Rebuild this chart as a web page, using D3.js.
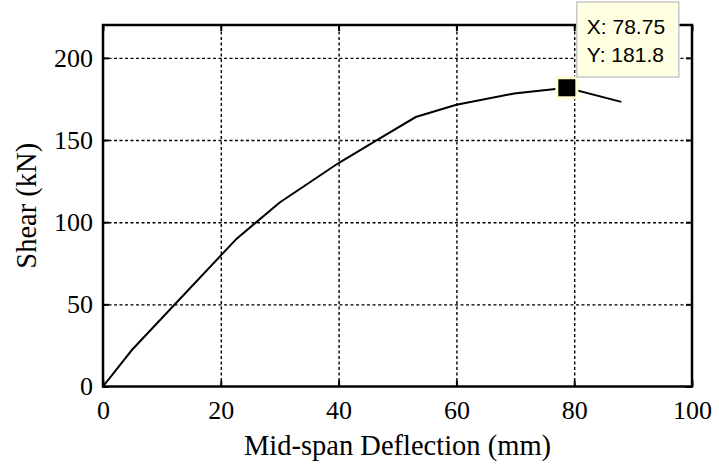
<!DOCTYPE html>
<html>
<head>
<meta charset="utf-8">
<script src="https://cdn.jsdelivr.net/npm/d3@7"></script>
<style>
  body { margin: 0; background: #fff; }
  .tick text { font-family: "Liberation Serif", "Times New Roman", serif; font-size: 26px; fill: #000; }
  .grid line { stroke: #000; stroke-width: 1.4; stroke-dasharray: 3,2.5; }
  .grid path { display: none; }
</style>
</head>
<body>
<div class="graph-section"></div>
<script>
// mid-span deflection (mm) vs shear (kN)
var deflection = [0, 4.9, 22.7, 30, 40, 46.5, 53.1, 60, 69.8, 78.75, 88];
var shear = [0, 22.2, 90, 112, 136, 150, 164, 171.5, 178.3, 181.8, 173.2];
var xTicks = [0, 20, 40, 60, 80, 100];
var yTicks = [0, 50, 100, 150, 200];
var tipX = 78.75, tipY = 181.8;

var screen = { width: 719, height: 465 };
var margins = { top: 25, bottom: 78.5, left: 103, right: 27 };

var w = screen.width - margins.left - margins.right;
var h = screen.height - margins.top - margins.bottom;

var xScale = d3.scaleLinear().domain([0, 100]).range([0, w]);
var yScale = d3.scaleLinear().domain([0, 220]).range([h, 0]);

var svg = d3.select(".graph-section")
  .append("svg")
  .attr("width", screen.width)
  .attr("height", screen.height);

var plot = svg.append("g")
  .attr("transform", "translate(" + margins.left + "," + margins.top + ")");

// grid
plot.append("g").classed("grid", true)
  .attr("transform", "translate(0," + h + ")")
  .call(d3.axisBottom(xScale).tickValues(xTicks.slice(1, -1)).tickSize(-h).tickFormat(""));
plot.append("g").classed("grid", true)
  .call(d3.axisLeft(yScale).tickValues(yTicks.slice(1)).tickSize(-w).tickFormat(""));

// inward ticks on all sides
var tickLen = 6;
var styleTicks = function(g){ g.select(".domain").remove(); g.selectAll("line").attr("stroke-width", 2); };
plot.append("g")
  .attr("transform", "translate(0," + h + ")")
  .call(d3.axisBottom(xScale).tickValues(xTicks).tickSizeInner(-tickLen).tickSizeOuter(0).tickPadding(14))
  .call(styleTicks);
plot.append("g")
  .call(d3.axisTop(xScale).tickValues(xTicks).tickSizeInner(-tickLen).tickSizeOuter(0).tickFormat(""))
  .call(styleTicks);
plot.append("g")
  .call(d3.axisLeft(yScale).tickValues(yTicks).tickSizeInner(-tickLen).tickSizeOuter(0).tickPadding(10))
  .call(styleTicks);
plot.append("g")
  .attr("transform", "translate(" + w + ",0)")
  .call(d3.axisRight(yScale).tickValues(yTicks).tickSizeInner(-tickLen).tickSizeOuter(0).tickFormat(""))
  .call(styleTicks);

// frame
plot.append("rect")
  .attr("x", 0).attr("y", 0)
  .attr("width", w).attr("height", h)
  .attr("fill", "none")
  .attr("stroke", "#000")
  .attr("stroke-width", 2.5);

// curve
var pts = deflection.map(function(d, i){ return [d, shear[i]]; });
var line = d3.line()
  .x(function(d){ return xScale(d[0]); })
  .y(function(d){ return yScale(d[1]); });

plot.append("path")
  .datum(pts)
  .attr("d", line)
  .attr("fill", "none")
  .attr("stroke", "#000")
  .attr("stroke-width", 2);

// data tip marker
var mx = xScale(tipX), my = yScale(tipY);
plot.append("rect")
  .attr("x", mx - 11.5).attr("y", my - 11.5)
  .attr("width", 23).attr("height", 23)
  .attr("fill", "#ffffd2");
plot.append("rect")
  .attr("x", mx - 8.5).attr("y", my - 8.5)
  .attr("width", 17).attr("height", 17)
  .attr("fill", "#000");

// data tip box
var tip = svg.append("g")
  .attr("transform", "translate(" + (margins.left + mx + 10) + ",2)");
tip.append("rect")
  .attr("x", 0).attr("y", 0)
  .attr("width", 102).attr("height", 75)
  .attr("fill", "#ffffe1")
  .attr("stroke", "#c8c8c8")
  .attr("stroke-width", 1.5);
tip.selectAll("text")
  .data(["X: " + tipX, "Y: " + tipY])
  .enter()
  .append("text")
  .attr("x", 10)
  .attr("y", function(d, i){ return 32 + i * 28; })
  .attr("font-family", "Liberation Sans, Arial, sans-serif")
  .attr("font-size", 21)
  .attr("fill", "#000")
  .text(function(d){ return d; });

// axis titles
svg.append("text")
  .attr("x", margins.left + w / 2)
  .attr("y", 455)
  .attr("text-anchor", "middle")
  .attr("font-family", "Liberation Serif, Times New Roman, serif")
  .attr("font-size", 28.5)
  .text("Mid-span Deflection (mm)");

svg.append("text")
  .attr("transform", "translate(36," + (margins.top + h / 2) + ") rotate(-90)")
  .attr("text-anchor", "middle")
  .attr("font-family", "Liberation Serif, Times New Roman, serif")
  .attr("font-size", 28.5)
  .text("Shear (kN)");
</script>
</body>
</html>
